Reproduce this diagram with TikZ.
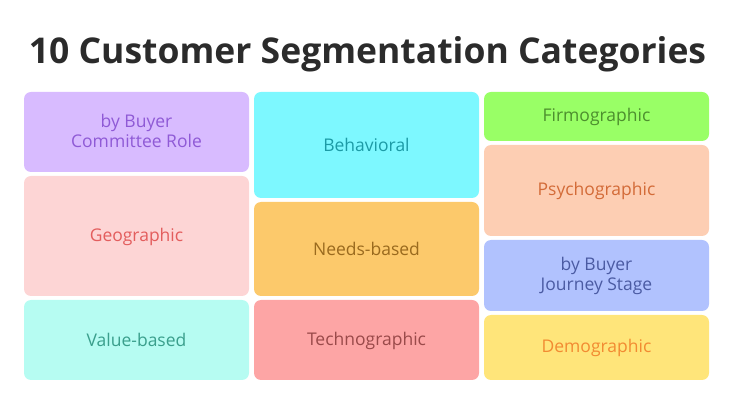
\documentclass[tikz,border=0pt]{standalone}
\usepackage{fontspec}
\setmainfont{Open Sans}
\usetikzlibrary{positioning}

\definecolor{titleInk}{HTML}{2B2B2B}
\definecolor{roleFill}{HTML}{D8BBFF}
\definecolor{roleText}{HTML}{8F5AD6}
\definecolor{geoFill}{HTML}{FDD5D5}
\definecolor{geoText}{HTML}{E35D5D}
\definecolor{valueFill}{HTML}{B6FCF2}
\definecolor{valueText}{HTML}{3A9F8C}
\definecolor{behavFill}{HTML}{7DF8FF}
\definecolor{behavText}{HTML}{1C9BA6}
\definecolor{needsFill}{HTML}{FCC96B}
\definecolor{needsText}{HTML}{9A6A1E}
\definecolor{techFill}{HTML}{FDA5A5}
\definecolor{techText}{HTML}{9A4A4A}
\definecolor{firmFill}{HTML}{99FF66}
\definecolor{firmText}{HTML}{4D8F2E}
\definecolor{psychFill}{HTML}{FDCEB3}
\definecolor{psychText}{HTML}{D36B38}
\definecolor{journeyFill}{HTML}{B1C2FE}
\definecolor{journeyText}{HTML}{4B5BA3}
\definecolor{demoFill}{HTML}{FFE57A}
\definecolor{demoText}{HTML}{F28B32}

\newcommand{\segstrut}{\rule[-2pt]{0pt}{17pt}}

\begin{document}
\begin{tikzpicture}[
    x=1pt, y=1pt,
    node distance=4pt,
    seg/.style={rectangle, rounded corners=7pt, minimum width=225pt, align=center, inner sep=0pt, outer sep=0pt,
        font=\fontsize{17.5}{20}\selectfont, execute at begin node=\segstrut, execute at end node=\segstrut},
    heading/.style={font=\bfseries\fontsize{35.5}{40}\selectfont, text=titleInk, inner sep=0pt}
]
\useasboundingbox (0,0) rectangle (733,404);

% Title
\node[heading, anchor=base] (title) at (367.5,340) {10 Customer Segmentation Categories};

% Left column
\node[seg, anchor=north, fill=roleFill, text=roleText, minimum height=80pt] (role) at (136.5,312) {by Buyer\\Committee Role};
\node[seg, below=of role, fill=geoFill, text=geoText, minimum height=120pt] (geo) {Geographic};
\node[seg, below=of geo, fill=valueFill, text=valueText, minimum height=80pt] (value) {Value-based};

% Middle column
\node[seg, anchor=north, fill=behavFill, text=behavText, minimum height=106pt] (behav) at (366.5,312) {Behavioral};
\node[seg, below=of behav, fill=needsFill, text=needsText, minimum height=94pt] (needs) {Needs-based};
\node[seg, below=of needs, fill=techFill, text=techText, minimum height=80pt] (techno) {Technographic};

% Right column
\node[seg, anchor=north, fill=firmFill, text=firmText, minimum height=49pt] (firmo) at (596.5,312) {Firmographic};
\node[seg, below=of firmo, fill=psychFill, text=psychText, minimum height=91pt] (psycho) {Psychographic};
\node[seg, below=of psycho, fill=journeyFill, text=journeyText, minimum height=71pt] (journey) {by Buyer\\Journey Stage};
\node[seg, below=of journey, fill=demoFill, text=demoText, minimum height=65pt] (demo) {Demographic};
\end{tikzpicture}
\end{document}
